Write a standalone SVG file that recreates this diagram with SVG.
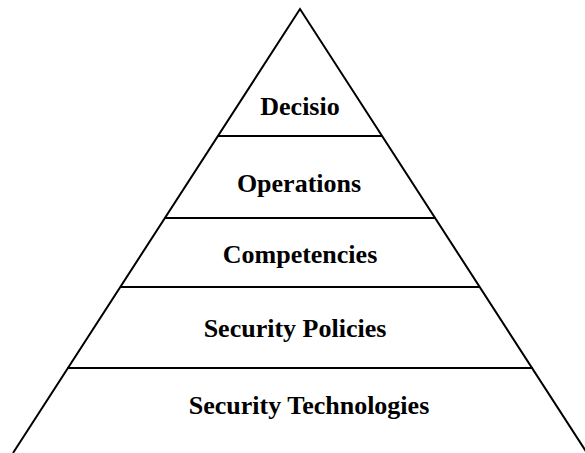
<svg xmlns="http://www.w3.org/2000/svg" width="585" height="453" viewBox="0 0 585 453">
<style>
.edge{stroke:#000;stroke-width:2;fill:none}
.lbl{font-family:"Liberation Serif","Times New Roman",serif;font-weight:bold;font-size:26px;fill:#000;text-anchor:middle}
</style>
<rect width="585" height="453" fill="#fff"/>
<g id="connectors">
<path class="edge" d="M13,453 L300,9 L587,453"/>
<line class="edge" x1="218" y1="136" x2="382" y2="136"/>
<line class="edge" x1="165" y1="218" x2="435" y2="218"/>
<line class="edge" x1="120" y1="287" x2="480" y2="287"/>
<line class="edge" x1="67" y1="368" x2="533" y2="368"/>
</g>
<g id="decisio"><text class="lbl" x="300" y="115">Decisio</text></g>
<g id="operations"><text class="lbl" x="299" y="192">Operations</text></g>
<g id="competencies"><text class="lbl" x="300" y="263">Competencies</text></g>
<g id="policies"><text class="lbl" x="295" y="337">Security Policies</text></g>
<g id="technologies"><text class="lbl" x="309" y="414">Security Technologies</text></g>
</svg>
